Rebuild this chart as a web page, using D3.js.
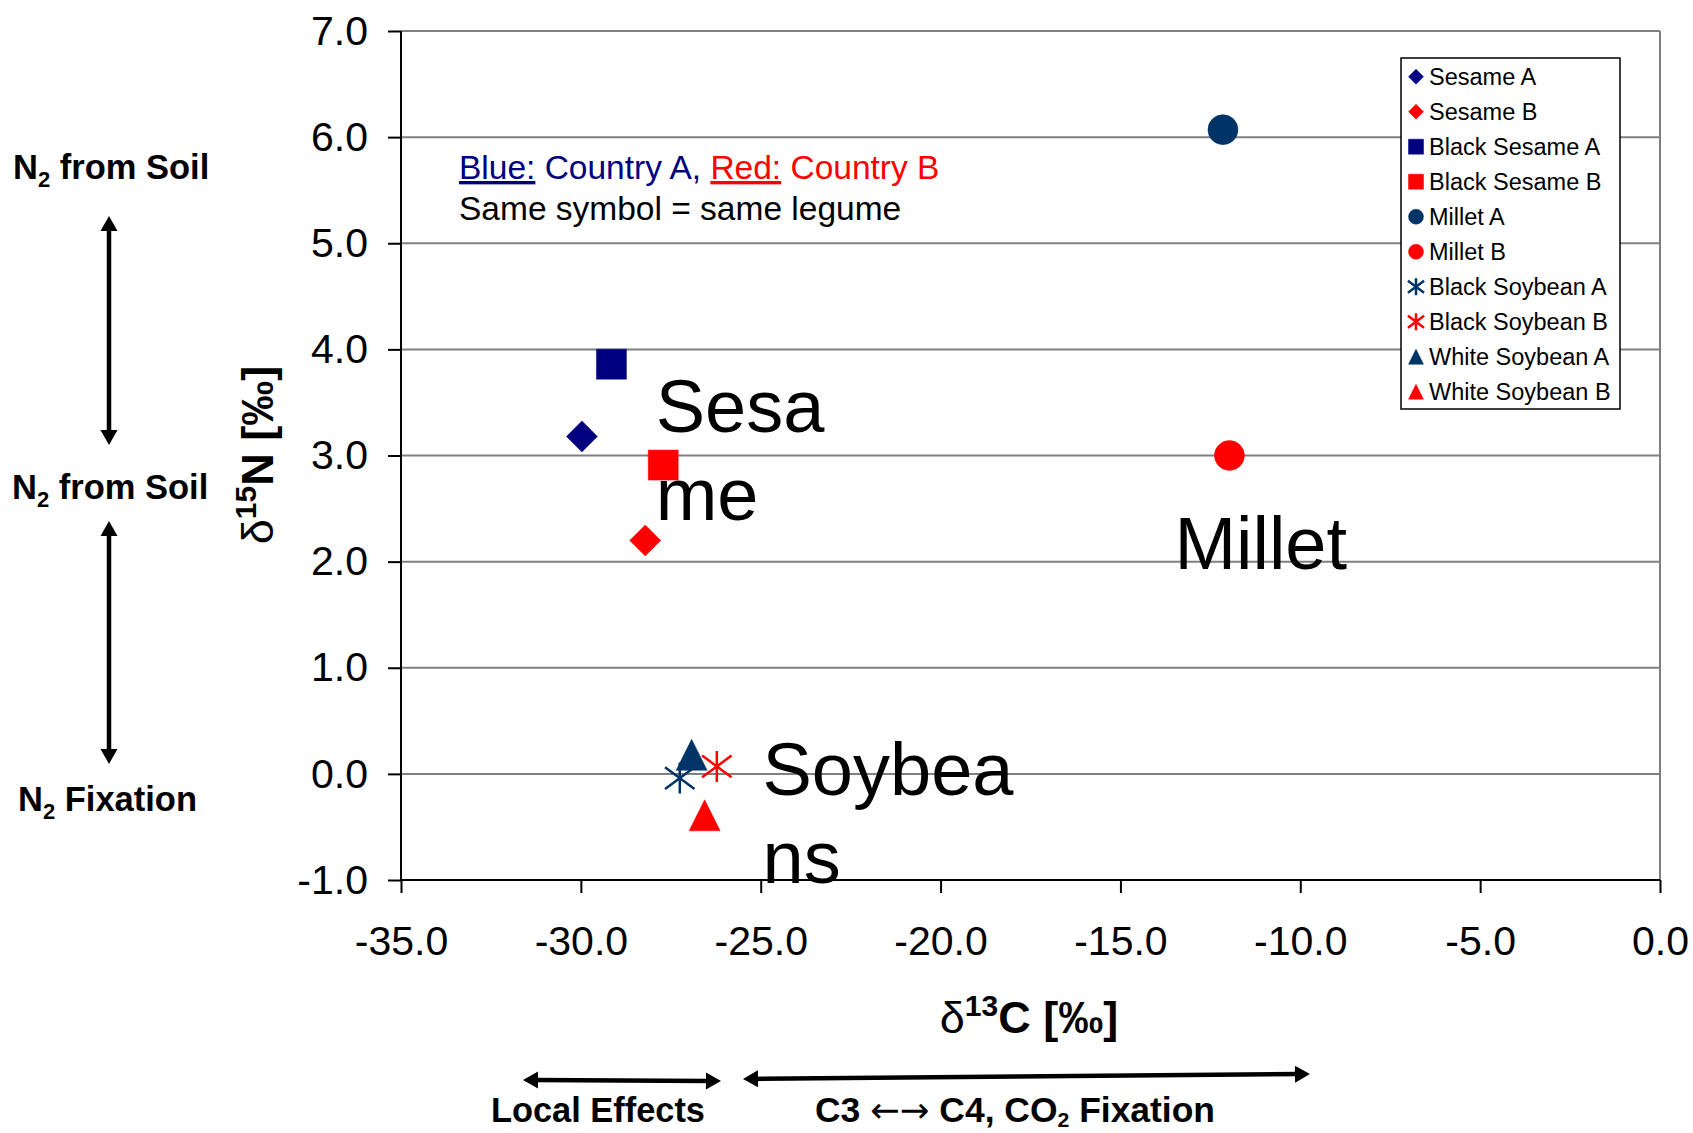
<!DOCTYPE html>
<html>
<head>
<meta charset="utf-8">
<script src="https://cdn.jsdelivr.net/npm/d3@7"></script>
<style>
  html, body { margin: 0; padding: 0; background: #fff; }
  svg { display: block; font-family: "Liberation Sans", Arial, sans-serif; }
</style>
</head>
<body>
<div id="chart"></div>
<script>
// δ13C vs δ15N scatter, legumes of country A (blue) and country B (red)

const seriesNames = ["Sesame A", "Sesame B", "Black Sesame A", "Black Sesame B", "Millet A", "Millet B",
  "Black Soybean A", "Black Soybean B", "White Soybean A", "White Soybean B"];
const seriesC = [-29.97, -28.21, -29.15, -27.71, -12.15, -11.97, -27.25, -26.22, -26.92, -26.56];
const seriesN = [3.18, 2.20, 3.86, 2.91, 6.07, 3.00, -0.04, 0.07, 0.18, -0.39];
const seriesSymbol = ["diamond", "diamond", "square", "square", "circle", "circle",
  "asterisk", "asterisk", "triangle", "triangle"];
const seriesColor = ["#000080", "#ff0000", "#000080", "#ff0000", "#003366", "#ff0000",
  "#003366", "#ff0000", "#003366", "#ff0000"];

const xTicks = [-35, -30, -25, -20, -15, -10, -5, 0];
const yTicks = [-1, 0, 1, 2, 3, 4, 5, 6, 7];

// gros libellés de groupes (coordonnées en données)
const groupLabels = [
  { lines: ["Sesa", "me"], c: -27.92, n: 3.22 },
  { lines: ["Millet"], c: -13.5, n: 1.93 },
  { lines: ["Soybea", "ns"], c: -24.95, n: -0.2 }
];

const W = 1693, H = 1133;
const svg = d3.select("#chart").append("svg").attr("width", W).attr("height", H);

const x = d3.scaleLinear().domain([-35, 0]).range([401, 1660]);
const y = d3.scaleLinear().domain([-1, 7]).range([880, 31]);

const fmt = d3.formatLocale({ decimal: ".", thousands: ",", grouping: [3], currency: ["", ""], minus: "-" }).format(".1f");

// Grille
svg.append("g").selectAll("line")
  .data(yTicks)
  .enter().append("line")
  .attr("x1", x(-35)).attr("x2", x(0))
  .attr("y1", d => y(d)).attr("y2", d => y(d))
  .attr("stroke", "#808080").attr("stroke-width", 2);

svg.append("line")
  .attr("x1", x(0)).attr("x2", x(0)).attr("y1", y(7)).attr("y2", y(-1))
  .attr("stroke", "#808080").attr("stroke-width", 2);

// Axes
const yAxis = svg.append("g")
  .attr("transform", `translate(${x(-35)},0)`)
  .call(d3.axisLeft(y).tickValues(yTicks).tickFormat(fmt).tickSize(13).tickPadding(20));
const xAxis = svg.append("g")
  .attr("transform", `translate(0,${y(-1)})`)
  .call(d3.axisBottom(x).tickValues(xTicks).tickFormat(fmt).tickSize(13).tickPadding(33));

[yAxis, xAxis].forEach(g => {
  g.select(".domain").remove();
  g.selectAll(".tick line").attr("stroke", "#000").attr("stroke-width", 2);
  g.selectAll(".tick text")
    .attr("fill", "#000")
    .style("font-family", "'Liberation Sans', Arial, sans-serif")
    .style("font-size", "41px");
});

svg.append("line")
  .attr("x1", x(-35)).attr("x2", x(-35)).attr("y1", y(7)).attr("y2", y(-1))
  .attr("stroke", "#000").attr("stroke-width", 2);
svg.append("line")
  .attr("x1", x(-35)).attr("x2", x(0)).attr("y1", y(-1)).attr("y2", y(-1))
  .attr("stroke", "#000").attr("stroke-width", 2);

// Marqueurs
function markerPath(type, cx, cy, r) {
  switch (type) {
    case "diamond":
      return `M${cx},${cy - r}L${cx + r},${cy}L${cx},${cy + r}L${cx - r},${cy}Z`;
    case "square":
      return `M${cx - r},${cy - r}H${cx + r}V${cy + r}H${cx - r}Z`;
    case "circle":
      return `M${cx + r},${cy}A${r},${r} 0 1,1 ${cx - r},${cy}A${r},${r} 0 1,1 ${cx + r},${cy}Z`;
    case "triangle":
      return `M${cx},${cy - r}L${cx + r},${cy + r}L${cx - r},${cy + r}Z`;
    case "asterisk": {
      const a = r * 0.95, b = r * 0.7;
      return `M${cx},${cy - r}V${cy + r}M${cx - a},${cy - b}L${cx + a},${cy + b}M${cx - a},${cy + b}L${cx + a},${cy - b}`;
    }
  }
}

const points = seriesNames.map((name, i) => ({
  name, c: seriesC[i], n: seriesN[i], symbol: seriesSymbol[i], color: seriesColor[i]
}));

const sizeOf = { diamond: 15.5, square: 15, circle: 15, triangle: 15.5, asterisk: 15.5 };

function drawMarker(sel, r) {
  sel.each(function (d) {
    const g = d3.select(this);
    const isStar = d.symbol === "asterisk";
    g.append("path")
      .attr("d", markerPath(d.symbol, 0, 0, r(d)))
      .attr("fill", isStar ? "none" : d.color)
      .attr("stroke", d.color)
      .attr("stroke-width", isStar ? 2.5 : 0.5);
  });
}

svg.append("g").selectAll("g")
  .data(points)
  .enter().append("g")
  .attr("transform", d => `translate(${x(d.c)},${y(d.n)})`)
  .call(drawMarker, d => sizeOf[d.symbol]);

// Libellés de groupes
groupLabels.forEach(lab => {
  const t = svg.append("text")
    .attr("x", x(lab.c))
    .attr("y", y(lab.n))
    .attr("font-size", 74)
    .attr("fill", "#000");
  lab.lines.forEach((line, i) => {
    t.append("tspan").attr("x", x(lab.c)).attr("dy", i === 0 ? 0 : 88).text(line);
  });
});

// Note couleur
const note = svg.append("text").attr("x", 459).attr("y", 179).attr("font-size", 33.5);
note.append("tspan").attr("fill", "#000080").style("text-decoration", "underline").text("Blue:");
note.append("tspan").attr("fill", "#000080").text(" Country A,");
note.append("tspan").attr("fill", "#ff0000").text(" ");
note.append("tspan").attr("fill", "#ff0000").style("text-decoration", "underline").text("Red:");
note.append("tspan").attr("fill", "#ff0000").text(" Country B");
svg.append("text").attr("x", 459).attr("y", 220).attr("font-size", 33.5).attr("fill", "#000")
  .text("Same symbol = same legume");

// Légende
const legend = svg.append("g");
legend.append("rect")
  .attr("x", 1401).attr("y", 58).attr("width", 219).attr("height", 351)
  .attr("fill", "#fff").attr("stroke", "#000").attr("stroke-width", 1.5);
const legendItems = legend.selectAll("g.item")
  .data(points)
  .enter().append("g")
  .attr("class", "item")
  .attr("transform", (d, i) => `translate(0,${76.7 + i * 35})`);
legendItems.append("g")
  .attr("transform", "translate(1416,0)")
  .call(drawMarker, d => d.symbol === "asterisk" ? 8.5 : 7.5);
legendItems.append("text")
  .attr("x", 1429).attr("dy", "0.36em")
  .attr("font-size", 23.5).attr("fill", "#000")
  .text(d => d.name);

// Titres d'axes
const xTitle = svg.append("text")
  .attr("x", 1029).attr("y", 1033)
  .attr("text-anchor", "middle").attr("font-size", 45).attr("font-weight", "bold");
xTitle.append("tspan").attr("font-weight", "normal").text("δ");
xTitle.append("tspan").attr("font-size", 30).attr("dy", -17).text("13");
xTitle.append("tspan").attr("dy", 17).text("C [‰]");

const yTitle = svg.append("text")
  .attr("transform", "translate(273,455) rotate(-90)")
  .attr("text-anchor", "middle").attr("font-size", 45).attr("font-weight", "bold");
yTitle.append("tspan").attr("font-weight", "normal").text("δ");
yTitle.append("tspan").attr("font-size", 30).attr("dy", -17).text("15");
yTitle.append("tspan").attr("dy", 17).text("N [‰]");

// Annotations à gauche
function n2Label(px, py, rest) {
  const t = svg.append("text").attr("x", px).attr("y", py)
    .attr("font-size", 34.5).attr("font-weight", "bold").attr("fill", "#000");
  t.append("tspan").text("N");
  t.append("tspan").attr("font-size", 22).attr("dy", 8).text("2");
  t.append("tspan").attr("dy", -8).text(rest);
}
n2Label(13, 179, " from Soil");
n2Label(12, 499, " from Soil");
n2Label(18, 811, " Fixation");

function doubleArrow(x1, y1, x2, y2) {
  const ang = Math.atan2(y2 - y1, x2 - x1);
  const len = 15, half = 8.5;
  const ux = Math.cos(ang), uy = Math.sin(ang);
  const px = -uy, py = ux;
  svg.append("line")
    .attr("x1", x1 + ux * len * 0.8).attr("y1", y1 + uy * len * 0.8)
    .attr("x2", x2 - ux * len * 0.8).attr("y2", y2 - uy * len * 0.8)
    .attr("stroke", "#000").attr("stroke-width", 4.5);
  const head = (tx, ty, dir) => {
    const bx = tx - dir * ux * len, by = ty - dir * uy * len;
    svg.append("path")
      .attr("d", `M${tx},${ty}L${bx + px * half},${by + py * half}L${bx - px * half},${by - py * half}Z`)
      .attr("fill", "#000");
  };
  head(x2, y2, 1);
  head(x1, y1, -1);
}
doubleArrow(109, 216, 109, 445);
doubleArrow(109, 521, 109, 764);
doubleArrow(523, 1080, 721, 1081);
doubleArrow(743, 1079, 1310, 1074);

// Annotations en bas (police étroite)
const narrow = "'Liberation Sans Narrow', 'Arial Narrow', 'Liberation Sans', Arial, sans-serif";
svg.append("text")
  .attr("x", 491).attr("y", 1122)
  .attr("font-size", 35).attr("font-weight", "bold")
  .style("font-family", narrow)
  .attr("textLength", 214).attr("lengthAdjust", "spacingAndGlyphs")
  .text("Local Effects");

const c3 = svg.append("text")
  .attr("x", 815).attr("y", 1122)
  .attr("font-size", 35).attr("font-weight", "bold")
  .style("font-family", narrow)
  .attr("textLength", 400).attr("lengthAdjust", "spacingAndGlyphs");
c3.append("tspan").text("C3 ");
c3.append("tspan").style("font-family", "'DejaVu Sans', sans-serif").attr("font-weight", "normal").text("\u2190\u2192");
c3.append("tspan").text(" C4, CO");
c3.append("tspan").attr("font-size", 21).attr("dy", 5).text("2");
c3.append("tspan").attr("dy", -5).text(" Fixation");
</script>
</body>
</html>
